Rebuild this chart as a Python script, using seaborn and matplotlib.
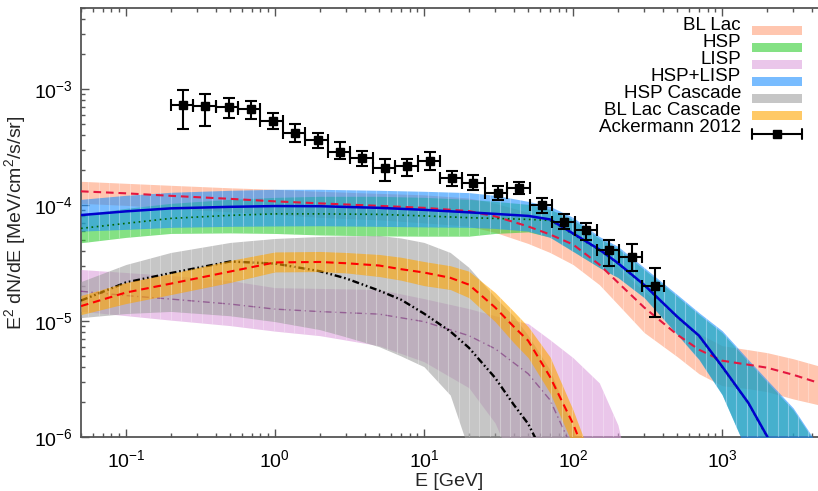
import numpy as np
import pandas as pd
import matplotlib
matplotlib.use("Agg")
import matplotlib.pyplot as plt
import seaborn as sns
from matplotlib.patches import Rectangle
from matplotlib.lines import Line2D
from matplotlib.collections import LineCollection

# ---------------- data ----------------
E_grid = [0.05, 0.1, 0.2, 0.5, 1, 2, 5, 10, 20, 30, 50, 70, 100, 150, 200, 300,
          500, 700, 1000, 1500, 2000, 3000, 4400]

bllac_mid = [1.313e-4, 1.262e-4, 1.201e-4, 1.131e-4, 1.076e-4, 1.034e-4, 9.84e-5, 9.46e-5,
             8.87e-5, 7.99e-5, 6.54e-5, 5.58e-5, 4.57e-5, 3.07e-5, 2.15e-5, 1.31e-5,
             7.63e-6, 5.66e-6, 4.55e-6, 4.20e-6, 3.96e-6, 3.44e-6, 2.94e-6]
bllac_up = [1.602e-4, 1.540e-4, 1.480e-4, 1.408e-4, 1.367e-4, 1.313e-4, 1.261e-4, 1.225e-4,
            1.149e-4, 1.035e-4, 8.64e-5, 7.37e-5, 6.16e-5, 4.14e-5, 2.90e-5, 1.80e-5,
            1.07e-5, 7.78e-6, 6.13e-6, 5.66e-6, 5.34e-6, 4.73e-6, 4.12e-6]
bllac_lo = [1.034e-4, 9.94e-5, 9.37e-5, 8.73e-5, 8.31e-5, 7.83e-5, 7.45e-5, 7.02e-5,
            6.58e-5, 5.81e-5, 4.66e-5, 3.90e-5, 3.07e-5, 2.06e-5, 1.39e-5, 7.96e-6,
            4.93e-6, 3.51e-6, 2.77e-6, 2.61e-6, 2.46e-6, 2.13e-6, 1.90e-6]

hsp_mid = [6.29e-5, 6.95e-5, 7.67e-5, 8.15e-5, 8.39e-5, 8.39e-5, 8.31e-5, 8.06e-5,
           7.78e-5, 7.67e-5, 7.52e-5, 7.37e-5, 5.6e-5, 4.08e-5, 3.12e-5, 2.03e-5,
           1.08e-5, 7.4e-6, 4.0e-6, 1.95e-6, 1.0e-6, 3.4e-7, 1.3e-7]
hsp_up = [8.31e-5, 9.36e-5, 1.034e-4, 1.120e-4, 1.165e-4, 1.189e-4, 1.189e-4, 1.165e-4,
          1.120e-4, 1.076e-4, 1.014e-4, 9.18e-5, 7.52e-5, 5.15e-5, 4.22e-5, 2.78e-5,
          1.63e-5, 1.14e-5, 7.94e-6, 4.46e-6, 2.99e-6, 1.71e-6, 8.2e-7]
hsp_lo = [4.73e-5, 5.26e-5, 5.69e-5, 5.75e-5, 5.69e-5, 5.52e-5, 5.42e-5, 5.39e-5,
          5.39e-5, 5.69e-5, 5.87e-5, 5.3e-5, 4.0e-5, 2.9e-5, 2.38e-5, 1.6e-5,
          7.7e-6, 4.7e-6, 2.33e-6, 7.1e-7, 3.5e-7, 2e-7, 1e-7]

E_lisp = [0.05, 0.1, 0.2, 0.5, 1, 2, 5, 10, 20, 30, 50, 70, 100, 150, 200, 300]
lisp_mid = [1.806e-5, 1.658e-5, 1.546e-5, 1.400e-5, 1.267e-5, 1.206e-5, 1.147e-5, 9.88e-6,
            7.48e-6, 5.77e-6, 3.51e-6, 2.09e-6, 7.7e-7, 1.9e-7, 8e-8, 3e-8]
lisp_up = [2.78e-5, 2.62e-5, 2.47e-5, 2.23e-5, 1.94e-5, 1.91e-5, 1.87e-5, 1.56e-5,
           1.28e-5, 1.11e-5, 9.5e-6, 6.9e-6, 4.83e-6, 2.93e-6, 1.27e-6, 1.3e-7]
lisp_lo = [1.213e-5, 1.113e-5, 1.018e-5, 9.13e-6, 8.18e-6, 7.48e-6, 6.13e-6, 4.46e-6,
           2.66e-6, 1.32e-6, 2.9e-7, 1e-7, 5e-8, 3e-8, 2e-8, 1e-8]

both_mid = [8.195e-5, 8.82e-5, 9.36e-5, 9.65e-5, 9.80e-5, 9.77e-5, 9.46e-5, 9.09e-5,
            8.65e-5, 8.39e-5, 8.06e-5, 7.52e-5, 5.69e-5, 4.14e-5, 3.16e-5, 2.05e-5,
            1.09e-5, 7.48e-6, 4.06e-6, 1.97e-6, 1.02e-6, 3.5e-7, 1.3e-7]
both_up = [1.120e-4, 1.213e-4, 1.288e-4, 1.340e-4, 1.367e-4, 1.367e-4, 1.340e-4, 1.314e-4,
           1.280e-4, 1.213e-4, 1.076e-4, 9.74e-5, 7.83e-5, 5.36e-5, 4.40e-5, 2.89e-5,
           1.69e-5, 1.18e-5, 8.26e-6, 4.64e-6, 3.11e-6, 1.78e-6, 8.5e-7]
both_lo = [5.96e-5, 6.17e-5, 6.42e-5, 6.55e-5, 6.60e-5, 6.63e-5, 6.55e-5, 6.48e-5,
           6.42e-5, 6.29e-5, 5.96e-5, 5.26e-5, 3.98e-5, 2.89e-5, 2.37e-5, 1.59e-5,
           7.63e-6, 4.64e-6, 2.31e-6, 7.0e-7, 3.5e-7, 2e-7, 1e-7]

E_casc = [0.05, 0.1, 0.2, 0.5, 1, 2, 3, 5, 7, 10, 15, 20, 30, 40, 50, 70, 100, 150]
hspc_mid = [1.50e-5, 2.15e-5, 2.59e-5, 3.26e-5, 3.13e-5, 2.69e-5, 2.33e-5, 1.83e-5, 1.53e-5,
            1.16e-5, 8.15e-6, 5.89e-6, 3.24e-6, 1.9e-6, 1.3e-6, 5.5e-7, 1.5e-7, 5e-8]
hspc_up = [2.19e-5, 3.07e-5, 3.90e-5, 4.76e-5, 5.15e-5, 5.36e-5, 5.42e-5, 5.47e-5, 5.2e-5,
           4.76e-5, 3.9e-5, 2.9e-5, 1.6e-5, 1.1e-5, 7.5e-6, 3.8e-6, 1.2e-6, 2e-7]
hspc_lo = [1.07e-5, 1.16e-5, 1.21e-5, 1.11e-5, 9.88e-6, 8.43e-6, 7.3e-6, 6.01e-6, 5.0e-6,
           4.04e-6, 2.3e-6, 7.7e-7, 1.9e-7, 1e-7, 1e-7, 1e-7, 1e-7, 1e-7]

blc_mid = [1.345e-5, 1.76e-5, 2.10e-5, 2.67e-5, 3.20e-5, 3.23e-5, 3.15e-5, 3.01e-5, 2.8e-5,
           2.62e-5, 2.36e-5, 2.06e-5, 1.31e-5, 8.95e-6, 6.77e-6, 3.31e-6, 1.3e-6, 3.5e-7]
blc_up = [1.66e-5, 2.15e-5, 2.57e-5, 3.33e-5, 3.94e-5, 3.98e-5, 3.9e-5, 3.75e-5, 3.55e-5,
          3.26e-5, 3.0e-5, 2.69e-5, 1.76e-5, 1.21e-5, 8.95e-6, 4.92e-6, 1.71e-6, 4.3e-7]
blc_lo = [1.136e-5, 1.414e-5, 1.69e-5, 2.15e-5, 2.65e-5, 2.67e-5, 2.6e-5, 2.42e-5, 2.25e-5,
          2.02e-5, 1.87e-5, 1.59e-5, 9.88e-6, 6.5e-6, 4.83e-6, 2.40e-6, 8.5e-7, 1.9e-7]

# Ackermann 2012 EGB points
egb_E = [0.242, 0.339, 0.489, 0.687, 0.965, 1.368, 1.934, 2.743, 3.836, 5.473, 7.725,
         10.97, 15.41, 21.42, 31.23, 43.61, 61.93, 87.0, 121.7, 174.4, 247.7, 355.0]
egb_Elo = [0.2, 0.283, 0.4, 0.566, 0.8, 1.13, 1.6, 2.26, 3.2, 4.53, 6.4,
           9.05, 12.8, 18.1, 25.6, 36.2, 51.2, 72.4, 102.4, 144.8, 204.8, 289.6]
egb_Ehi = [0.283, 0.4, 0.566, 0.8, 1.13, 1.6, 2.26, 3.2, 4.53, 6.4, 9.05,
           12.8, 18.1, 25.6, 36.2, 51.2, 72.4, 102.4, 144.8, 204.8, 289.6, 409.6]
egb_F = [7.27e-4, 7.17e-4, 7.03e-4, 6.72e-4, 5.26e-4, 4.22e-4, 3.62e-4, 2.89e-4, 2.55e-4,
         2.08e-4, 2.15e-4, 2.40e-4, 1.70e-4, 1.56e-4, 1.28e-4, 1.40e-4, 1.00e-4, 7.19e-5,
         6.04e-5, 4.08e-5, 3.58e-5, 1.99e-5]
egb_Fhi = [9.86e-4, 9.05e-4, 8.36e-4, 7.87e-4, 6.20e-4, 4.98e-4, 4.22e-4, 3.50e-4, 2.93e-4,
           2.48e-4, 2.48e-4, 2.87e-4, 1.97e-4, 1.82e-4, 1.46e-4, 1.58e-4, 1.14e-4, 8.43e-5,
           6.95e-5, 4.98e-5, 4.57e-5, 2.84e-5]
egb_Flo = [4.51e-4, 4.82e-4, 5.61e-4, 5.50e-4, 4.51e-4, 3.53e-4, 3.09e-4, 2.48e-4, 2.15e-4,
           1.61e-4, 1.78e-4, 2.01e-4, 1.46e-4, 1.34e-4, 1.10e-4, 1.24e-4, 8.60e-5, 6.17e-5,
           4.98e-5, 2.97e-5, 2.69e-5, 1.08e-5]

legend_labels = ["BL Lac", "HSP", "LISP", "HSP+LISP", "HSP Cascade", "BL Lac Cascade",
                 "Ackermann 2012"]

# ---------------- style ----------------
sns.set_theme(style="ticks")
plt.rcParams["font.family"] = ["Liberation Sans", "DejaVu Sans"]
plt.rcParams["mathtext.fontset"] = "custom"
plt.rcParams["mathtext.rm"] = "Liberation Sans"
plt.rcParams["mathtext.it"] = "Liberation Sans:italic"
plt.rcParams["mathtext.bf"] = "Liberation Sans:bold"
plt.rcParams["lines.scale_dashes"] = False

W, H = 818, 491
fig = plt.figure(figsize=(W / 100, H / 100), dpi=100)
ax = fig.add_axes([81 / W, (H - 437) / H, (W - 81) / W, (437 - 8) / H])
ax.set_xscale("log")
ax.set_yscale("log")

ALPHA = 0.6
c_bllac = "#ffa07a"
c_hsp = "#32cd32"
c_lisp = "#dda0dd"
c_both = "#1e90ff"
c_hspc = "#a0a0a0"
c_blc = "#ffa500"

# faint seams like the original renderer's segmented fills
seam_x = 10 ** np.arange(-1.32, 3.7, 0.069)
seam_segs = [[(sx, 1e-8), (sx, 1e-2)] for sx in seam_x]


def band(E, lo, up, color, z):
    poly = ax.fill_between(E, lo, up, color=color, alpha=ALPHA, linewidth=0, zorder=z)
    lc = LineCollection(seam_segs, colors="white", linewidths=0.8, alpha=0.28,
                        zorder=z + 0.01)
    ax.add_collection(lc)
    lc.set_clip_path(poly.get_paths()[0], ax.transData)


def curve(E, y, z, **kw):
    df = pd.DataFrame({"E": E, "F": y})
    sns.lineplot(data=df, x="E", y="F", ax=ax, estimator=None, sort=False,
                 legend=False, zorder=z, **kw)


band(E_grid, bllac_lo, bllac_up, c_bllac, 1)
band(E_grid, hsp_lo, hsp_up, c_hsp, 2)
band(E_lisp, lisp_lo, lisp_up, c_lisp, 3)
band(E_grid, both_lo, both_up, c_both, 4)

curve(E_grid, bllac_mid, 5, color="#e4173f", linewidth=1.5, linestyle=(0, (5.5, 3.5)))
curve(E_grid, hsp_mid, 5, color="#006400", linewidth=1.2, linestyle=(0, (1.2, 2.6)))
curve(E_lisp, lisp_mid, 5, color="#800080", linewidth=1.0, linestyle=(0, (5, 2.5, 1, 2.5)))
curve(E_grid, both_mid, 5, color="#0000cd", linewidth=1.8, linestyle="-")

band(E_casc, hspc_lo, hspc_up, c_hspc, 6)
curve(E_casc, hspc_mid, 7, color="black", linewidth=1.7,
      linestyle=(0, (5, 2, 1.2, 2, 1.2, 2)))
band(E_casc, blc_lo, blc_up, c_blc, 8)
curve(E_casc, blc_mid, 9, color="red", linewidth=1.5, linestyle=(0, (5.5, 3.5)))

egb_E_a = np.array(egb_E)
egb_F_a = np.array(egb_F)
xerr = [egb_E_a - np.array(egb_Elo), np.array(egb_Ehi) - egb_E_a]
yerr = [egb_F_a - np.array(egb_Flo), np.array(egb_Fhi) - egb_F_a]
ax.errorbar(egb_E, egb_F, xerr=xerr, yerr=yerr, fmt="s", color="black", ms=5.5,
            capsize=4.5, elinewidth=1.5, capthick=1.5, zorder=10)

ax.set_xlim(0.05, 4400)
ax.set_ylim(1e-6, 5e-3)

for s in ["left", "bottom", "top"]:
    ax.spines[s].set_color("#555555")
    ax.spines[s].set_linewidth(1.3)
ax.spines["right"].set_visible(False)
ax.tick_params(axis="both", which="both", direction="in", colors="#555555",
               labelcolor="black", labelsize=14)
ax.tick_params(axis="x", which="both", top=True)
ax.tick_params(which="major", length=5.5, width=1)
ax.tick_params(which="minor", length=3.2, width=1)
ax.tick_params(axis="y", which="major", pad=6)
ax.tick_params(axis="x", which="major", pad=9)
ax.xaxis.set_major_locator(matplotlib.ticker.LogLocator(base=10, numticks=20))
ax.xaxis.set_minor_locator(matplotlib.ticker.LogLocator(base=10, subs=np.arange(2, 10), numticks=20))
ax.yaxis.set_minor_locator(matplotlib.ticker.LogLocator(base=10, subs=np.arange(2, 10), numticks=20))
ax.xaxis.set_minor_formatter(matplotlib.ticker.NullFormatter())
ax.yaxis.set_minor_formatter(matplotlib.ticker.NullFormatter())

ax.set_xlabel("E [GeV]", fontsize=14, labelpad=1)
ax.set_ylabel(r"E$^2$ dN/dE [MeV/cm$^2$/s/sr]", fontsize=14, labelpad=4)


# ---------------- legend (gnuplot style: text right, samples left) ----------------
def fx(x):
    return x / W


def fy(y):
    return 1 - y / H


band_colors = [c_bllac, c_hsp, c_lisp, c_both, c_hspc, c_blc]
row0, pitch = 30.3, 17.0
for i, lab in enumerate(legend_labels):
    yrow = row0 + i * pitch
    fig.text(fx(741), fy(yrow), lab, ha="right", va="baseline", fontsize=13.5,
             color="black")
    if i < len(band_colors):
        fig.add_artist(Rectangle((fx(752), fy(yrow + 4.4)), fx(802) - fx(752),
                                 fy(yrow - 4.4) - fy(yrow + 4.4), transform=fig.transFigure,
                                 facecolor=band_colors[i], alpha=ALPHA, linewidth=0))
    else:
        yl = yrow + 1.5
        fig.add_artist(Line2D([fx(752), fx(802)], [fy(yl), fy(yl)], transform=fig.transFigure,
                              color="black", lw=1.5))
        for xx in (752, 802):
            fig.add_artist(Line2D([fx(xx), fx(xx)], [fy(yl - 5), fy(yl + 5)],
                                  transform=fig.transFigure, color="black", lw=1.5))
        fig.add_artist(Line2D([fx(777)], [fy(yl)], transform=fig.transFigure, marker="s",
                              ms=5.5, color="black", linestyle="none"))

fig.savefig("out.png", dpi=100)
